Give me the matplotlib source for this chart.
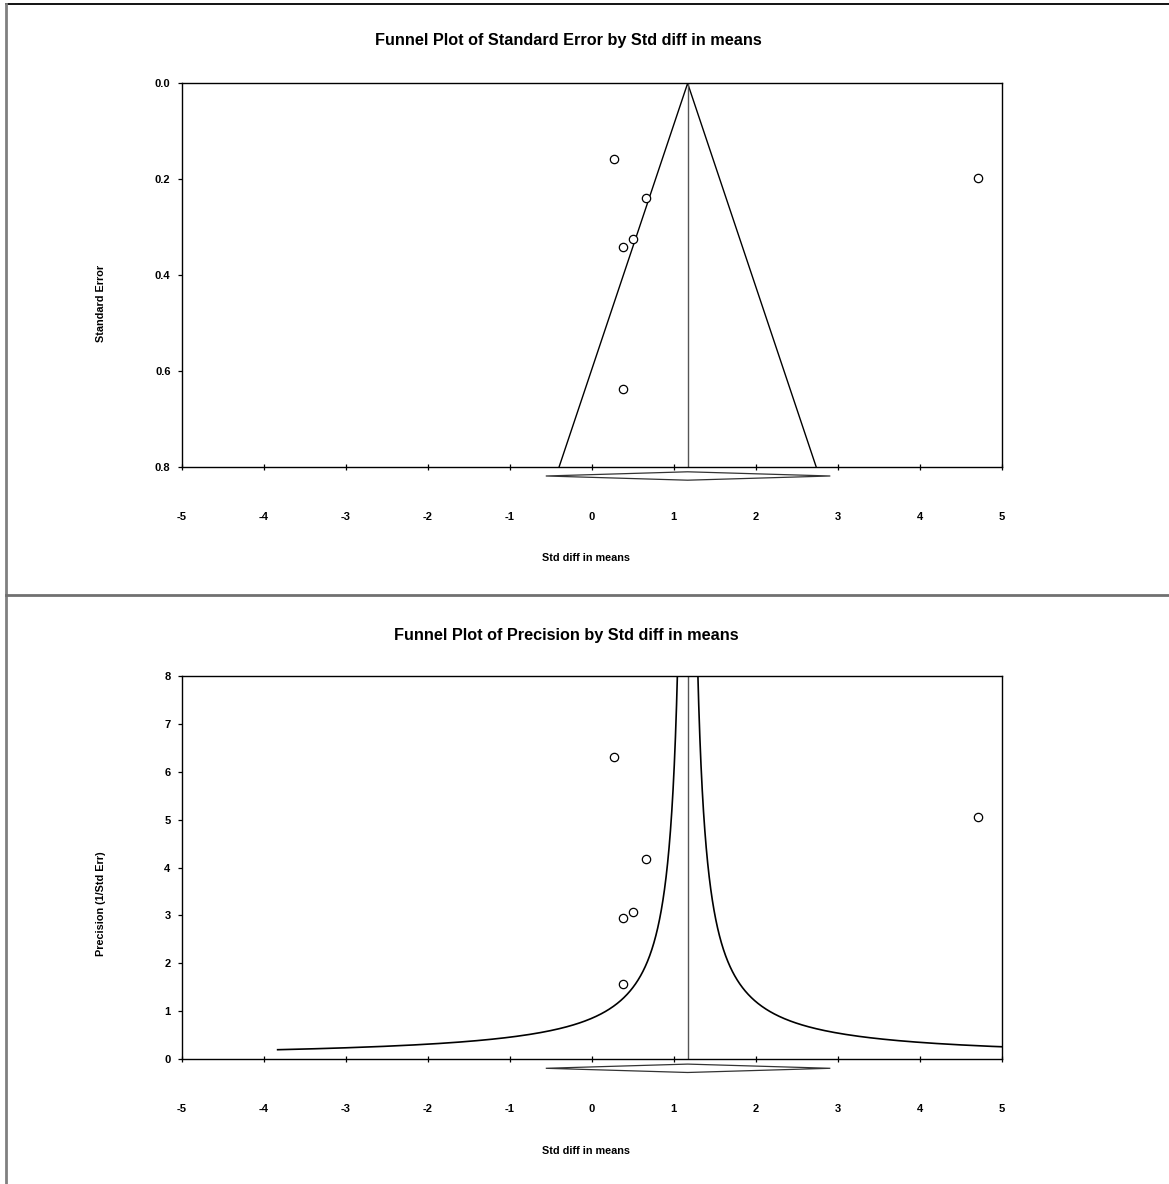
import matplotlib
matplotlib.use('Agg')
import matplotlib.pyplot as plt
import numpy as np
from matplotlib.lines import Line2D
from matplotlib.patches import Polygon

plt.rcParams['font.family'] = ['Liberation Sans', 'DejaVu Sans']

# ── data ────────────────────────────────────────────────────
effect = [0.276, 0.662, 0.507, 0.385, 0.385, 4.715]      # Std diff in means
std_err = [0.158, 0.2396, 0.325, 0.341, 0.6375, 0.197]   # Standard Error
precision = [6.31, 4.18, 3.08, 2.94, 1.58, 5.05]         # 1/Std Err

summary_mean = 1.17
summary_lo = -0.56
summary_hi = 2.91
se_funnel_z = 1.96          # top funnel: mean ± 1.96·SE
prec_funnel_k = 1.0         # bottom funnel: mean ± k/precision
prec_curve_min = 0.2        # lowest precision drawn by the curve

x_ticks = [-5, -4, -3, -2, -1, 0, 1, 2, 3, 4, 5]
se_ticks = [0.0, 0.2, 0.4, 0.6, 0.8]
prec_ticks = [0, 1, 2, 3, 4, 5, 6, 7, 8]

W, H = 1169, 1184
fig = plt.figure(figsize=(W / 100, H / 100), dpi=100)
fig.patch.set_facecolor('white')


def fx(px):
    return px / W


def fy(py):
    return 1 - py / H


def axes_rect(left, top, right, bottom):
    return [fx(left), fy(bottom), fx(right) - fx(left), (bottom - top) / H]


# window-ish frame lines
fig.add_artist(Line2D([fx(6), 1], [fy(4), fy(4)], color='black', lw=1.3))
fig.add_artist(Line2D([fx(6), fx(6)], [0, fy(4)], color='#808080', lw=2))
fig.add_artist(Line2D([fx(6), 1], [fy(595), fy(595)], color='#707070', lw=2))


def style_axis(ax):
    for s in ax.spines.values():
        s.set_color('black')
        s.set_linewidth(1.0)
    ax.set_xlim(-5, 5)
    ax.set_xticks(x_ticks)
    ax.set_xticklabels([str(t) for t in x_ticks], fontsize=8, fontweight='bold')
    ax.tick_params(axis='x', direction='inout', length=5, width=0.9, pad=30)
    ax.tick_params(axis='y', direction='out', length=3, width=0.9, pad=5)


def draw_diamond(ax):
    # summary effect diamond, hung just below the x axis
    tr = ax.get_xaxis_transform()
    yc, h = -9 / 384, 4.2 / 384
    pts = [(summary_lo, yc), (summary_mean, yc + h),
           (summary_hi, yc), (summary_mean, yc - h)]
    ax.add_patch(Polygon(pts, closed=True, fill=False, edgecolor='#333333',
                         lw=0.9, transform=tr, clip_on=False))


# ── top: Standard Error ──────────────────────────────────────
ax1 = fig.add_axes(axes_rect(181.7, 83.3, 1001.7, 467))
style_axis(ax1)
ax1.set_ylim(0.8, 0.0)
ax1.set_yticks(se_ticks)
ax1.set_yticklabels([f'{t:.1f}' for t in se_ticks], fontsize=8, fontweight='bold')
se_max = se_ticks[-1]
ax1.plot([summary_mean - se_funnel_z * se_max, summary_mean, summary_mean + se_funnel_z * se_max],
         [se_max, 0, se_max], color='black', lw=1.0)
ax1.plot([summary_mean, summary_mean], [0, se_max], color='#555555', lw=1.0)
ax1.plot(effect, std_err, 'o', ms=6, mfc='white', mec='black', mew=0.9)
draw_diamond(ax1)

fig.text(fx(568), fy(40), 'Funnel Plot of Standard Error by Std diff in means',
         ha='center', va='center', fontsize=11.7, fontweight='bold')
fig.text(fx(100.7), fy(303), 'Standard Error', rotation=90, ha='center',
         va='center', fontsize=7.8, fontweight='bold')
fig.text(fx(586), fy(558.3), 'Std diff in means', ha='center', va='center',
         fontsize=7.8, fontweight='bold')

# ── bottom: Precision ────────────────────────────────────────
ax2 = fig.add_axes(axes_rect(181.7, 675.7, 1001.7, 1059.3))
style_axis(ax2)
ax2.set_ylim(0, 8)
ax2.set_yticks(prec_ticks)
ax2.set_yticklabels([str(t) for t in prec_ticks], fontsize=8, fontweight='bold')
p = np.linspace(prec_curve_min, 40, 4000)
ax2.plot(summary_mean - prec_funnel_k / p, p, color='black', lw=1.2)
ax2.plot(summary_mean + prec_funnel_k / p, p, color='black', lw=1.2)
ax2.plot([summary_mean, summary_mean], [0, 8], color='#555555', lw=1.0)
ax2.plot(effect, precision, 'o', ms=6, mfc='white', mec='black', mew=0.9)
draw_diamond(ax2)

fig.text(fx(566), fy(635.7), 'Funnel Plot of Precision by Std diff in means',
         ha='center', va='center', fontsize=11.7, fontweight='bold')
fig.text(fx(100.7), fy(904), 'Precision (1/Std Err)', rotation=90, ha='center',
         va='center', fontsize=7.8, fontweight='bold')
fig.text(fx(586), fy(1151), 'Std diff in means', ha='center', va='center',
         fontsize=7.8, fontweight='bold')

fig.savefig('out.png', dpi=100, facecolor='white')
